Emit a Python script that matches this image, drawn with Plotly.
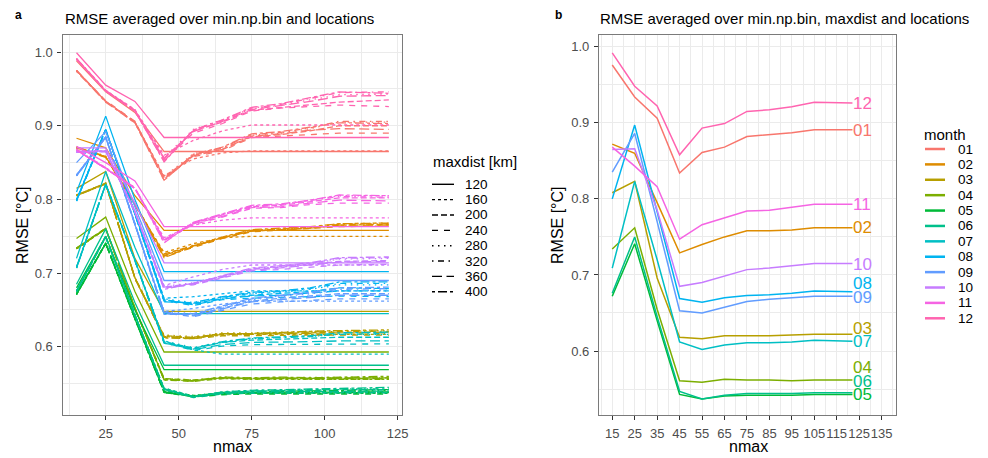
import plotly.graph_objects as go

# ---------------- data ----------------
nmax = [15, 25, 35, 45, 55, 65, 75, 85, 95, 105, 122]
months = ["01", "02", "03", "04", "05", "06", "07", "08", "09", "10", "11", "12"]
maxdist = [120, 160, 200, 240, 280, 320, 360, 400]

# panel a: RMSE per month, one row per maxdist (120 ... 400)
rmse_a_01 = [
    [0.988, 0.946, 0.918, 0.865, 0.865, 0.865, 0.865, 0.865, 0.865, 0.865, 0.865],
    [0.975, 0.933, 0.905, 0.832, 0.855, 0.863, 0.866, 0.866, 0.866, 0.866, 0.866],
    [0.975, 0.933, 0.905, 0.830, 0.860, 0.868, 0.885, 0.888, 0.893, 0.900, 0.900],
    [0.975, 0.934, 0.906, 0.828, 0.858, 0.866, 0.884, 0.886, 0.889, 0.890, 0.890],
    [0.975, 0.933, 0.905, 0.831, 0.862, 0.870, 0.887, 0.890, 0.896, 0.905, 0.905],
    [0.974, 0.933, 0.904, 0.826, 0.861, 0.870, 0.888, 0.891, 0.897, 0.906, 0.906],
    [0.975, 0.933, 0.905, 0.829, 0.859, 0.868, 0.886, 0.889, 0.894, 0.896, 0.895],
    [0.974, 0.932, 0.904, 0.826, 0.861, 0.871, 0.889, 0.892, 0.898, 0.904, 0.903],
]
rmse_a_02 = [
    [0.883, 0.870, 0.805, 0.758, 0.758, 0.758, 0.758, 0.758, 0.758, 0.758, 0.758],
    [0.870, 0.858, 0.793, 0.728, 0.740, 0.748, 0.750, 0.750, 0.750, 0.750, 0.750],
    [0.871, 0.858, 0.794, 0.726, 0.737, 0.748, 0.757, 0.759, 0.761, 0.765, 0.766],
    [0.870, 0.858, 0.793, 0.723, 0.735, 0.747, 0.756, 0.758, 0.760, 0.763, 0.764],
    [0.871, 0.859, 0.794, 0.725, 0.738, 0.749, 0.758, 0.760, 0.762, 0.767, 0.768],
    [0.870, 0.858, 0.793, 0.722, 0.736, 0.748, 0.758, 0.760, 0.762, 0.766, 0.767],
    [0.871, 0.858, 0.794, 0.724, 0.737, 0.748, 0.757, 0.759, 0.761, 0.765, 0.765],
    [0.870, 0.857, 0.793, 0.721, 0.736, 0.749, 0.759, 0.761, 0.763, 0.767, 0.768],
]
rmse_a_03 = [
    [0.815, 0.838, 0.720, 0.648, 0.648, 0.648, 0.648, 0.648, 0.648, 0.648, 0.648],
    [0.806, 0.821, 0.693, 0.614, 0.612, 0.616, 0.617, 0.617, 0.617, 0.617, 0.617],
    [0.806, 0.822, 0.694, 0.615, 0.613, 0.618, 0.618, 0.619, 0.619, 0.620, 0.620],
    [0.805, 0.821, 0.693, 0.613, 0.611, 0.615, 0.615, 0.616, 0.616, 0.616, 0.616],
    [0.806, 0.822, 0.694, 0.616, 0.614, 0.619, 0.619, 0.620, 0.621, 0.622, 0.622],
    [0.805, 0.821, 0.693, 0.613, 0.612, 0.618, 0.618, 0.619, 0.620, 0.621, 0.621],
    [0.806, 0.822, 0.694, 0.614, 0.612, 0.617, 0.617, 0.618, 0.618, 0.619, 0.619],
    [0.805, 0.821, 0.693, 0.612, 0.611, 0.618, 0.618, 0.620, 0.621, 0.622, 0.623],
]
rmse_a_04 = [
    [0.747, 0.776, 0.675, 0.593, 0.593, 0.593, 0.593, 0.593, 0.593, 0.593, 0.593],
    [0.733, 0.760, 0.652, 0.556, 0.554, 0.557, 0.556, 0.556, 0.556, 0.556, 0.556],
    [0.734, 0.761, 0.653, 0.557, 0.555, 0.558, 0.557, 0.558, 0.557, 0.558, 0.558],
    [0.733, 0.760, 0.652, 0.555, 0.553, 0.557, 0.556, 0.557, 0.556, 0.556, 0.556],
    [0.734, 0.761, 0.653, 0.557, 0.555, 0.559, 0.558, 0.558, 0.558, 0.559, 0.559],
    [0.733, 0.760, 0.652, 0.555, 0.554, 0.558, 0.557, 0.558, 0.557, 0.558, 0.558],
    [0.734, 0.761, 0.653, 0.556, 0.554, 0.558, 0.557, 0.557, 0.557, 0.557, 0.557],
    [0.733, 0.760, 0.652, 0.555, 0.554, 0.559, 0.558, 0.559, 0.558, 0.559, 0.560],
]
rmse_a_05 = [
    [0.680, 0.750, 0.650, 0.569, 0.569, 0.569, 0.569, 0.569, 0.569, 0.569, 0.569],
    [0.671, 0.740, 0.638, 0.540, 0.534, 0.537, 0.537, 0.537, 0.537, 0.537, 0.537],
    [0.672, 0.741, 0.639, 0.539, 0.533, 0.537, 0.538, 0.538, 0.538, 0.539, 0.539],
    [0.671, 0.740, 0.638, 0.538, 0.532, 0.535, 0.536, 0.536, 0.536, 0.536, 0.536],
    [0.672, 0.741, 0.639, 0.540, 0.534, 0.538, 0.539, 0.539, 0.540, 0.540, 0.541],
    [0.671, 0.740, 0.638, 0.538, 0.533, 0.537, 0.538, 0.539, 0.539, 0.540, 0.540],
    [0.672, 0.741, 0.639, 0.539, 0.533, 0.536, 0.537, 0.537, 0.537, 0.538, 0.538],
    [0.671, 0.740, 0.638, 0.538, 0.533, 0.538, 0.539, 0.540, 0.540, 0.541, 0.542],
]
rmse_a_06 = [
    [0.685, 0.760, 0.660, 0.575, 0.575, 0.575, 0.575, 0.575, 0.575, 0.575, 0.575],
    [0.675, 0.749, 0.643, 0.544, 0.533, 0.537, 0.538, 0.538, 0.538, 0.538, 0.538],
    [0.676, 0.750, 0.644, 0.543, 0.532, 0.538, 0.540, 0.540, 0.541, 0.542, 0.542],
    [0.675, 0.749, 0.643, 0.542, 0.531, 0.536, 0.537, 0.537, 0.537, 0.538, 0.538],
    [0.676, 0.750, 0.644, 0.544, 0.533, 0.539, 0.541, 0.541, 0.542, 0.543, 0.543],
    [0.675, 0.749, 0.643, 0.542, 0.532, 0.538, 0.540, 0.541, 0.542, 0.543, 0.543],
    [0.676, 0.750, 0.644, 0.543, 0.532, 0.537, 0.539, 0.539, 0.540, 0.540, 0.540],
    [0.675, 0.749, 0.643, 0.542, 0.532, 0.539, 0.541, 0.542, 0.543, 0.544, 0.545],
]
rmse_a_07 = [
    [0.720, 0.838, 0.735, 0.645, 0.645, 0.645, 0.645, 0.645, 0.645, 0.645, 0.645],
    [0.708, 0.821, 0.718, 0.608, 0.596, 0.590, 0.590, 0.590, 0.590, 0.590, 0.590],
    [0.708, 0.821, 0.718, 0.607, 0.598, 0.606, 0.609, 0.610, 0.611, 0.613, 0.613],
    [0.707, 0.820, 0.717, 0.606, 0.595, 0.601, 0.603, 0.603, 0.603, 0.604, 0.604],
    [0.708, 0.821, 0.718, 0.608, 0.599, 0.607, 0.611, 0.612, 0.614, 0.617, 0.617],
    [0.707, 0.820, 0.717, 0.605, 0.597, 0.606, 0.611, 0.612, 0.614, 0.617, 0.618],
    [0.708, 0.821, 0.718, 0.607, 0.596, 0.603, 0.606, 0.606, 0.607, 0.608, 0.608],
    [0.707, 0.820, 0.717, 0.605, 0.598, 0.607, 0.612, 0.613, 0.615, 0.619, 0.620],
]
rmse_a_08 = [
    [0.810, 0.913, 0.800, 0.702, 0.702, 0.702, 0.702, 0.702, 0.702, 0.702, 0.702],
    [0.800, 0.895, 0.781, 0.666, 0.668, 0.672, 0.676, 0.676, 0.676, 0.676, 0.676],
    [0.799, 0.895, 0.781, 0.664, 0.658, 0.666, 0.670, 0.672, 0.675, 0.680, 0.679],
    [0.798, 0.894, 0.780, 0.663, 0.656, 0.664, 0.666, 0.667, 0.668, 0.669, 0.668],
    [0.799, 0.895, 0.781, 0.665, 0.660, 0.668, 0.672, 0.674, 0.678, 0.684, 0.684],
    [0.798, 0.894, 0.780, 0.662, 0.659, 0.667, 0.673, 0.675, 0.679, 0.686, 0.686],
    [0.799, 0.895, 0.781, 0.664, 0.657, 0.665, 0.669, 0.670, 0.673, 0.676, 0.676],
    [0.798, 0.894, 0.780, 0.661, 0.660, 0.668, 0.674, 0.676, 0.680, 0.688, 0.688],
]
rmse_a_09 = [
    [0.850, 0.892, 0.790, 0.690, 0.690, 0.690, 0.690, 0.690, 0.690, 0.690, 0.690],
    [0.833, 0.885, 0.767, 0.648, 0.652, 0.658, 0.662, 0.662, 0.662, 0.662, 0.662],
    [0.833, 0.885, 0.767, 0.647, 0.643, 0.652, 0.662, 0.666, 0.669, 0.672, 0.672],
    [0.832, 0.884, 0.766, 0.646, 0.641, 0.650, 0.658, 0.661, 0.663, 0.665, 0.665],
    [0.833, 0.885, 0.767, 0.648, 0.645, 0.654, 0.664, 0.668, 0.672, 0.676, 0.677],
    [0.832, 0.884, 0.766, 0.645, 0.644, 0.654, 0.665, 0.669, 0.673, 0.678, 0.679],
    [0.833, 0.885, 0.767, 0.647, 0.642, 0.652, 0.661, 0.664, 0.667, 0.670, 0.670],
    [0.832, 0.884, 0.766, 0.644, 0.645, 0.655, 0.666, 0.670, 0.674, 0.680, 0.681],
]
rmse_a_10 = [
    [0.870, 0.870, 0.795, 0.714, 0.714, 0.714, 0.714, 0.714, 0.714, 0.714, 0.714],
    [0.864, 0.866, 0.783, 0.683, 0.695, 0.705, 0.711, 0.711, 0.711, 0.711, 0.711],
    [0.865, 0.866, 0.784, 0.681, 0.686, 0.695, 0.705, 0.708, 0.712, 0.716, 0.717],
    [0.864, 0.865, 0.783, 0.680, 0.684, 0.693, 0.703, 0.705, 0.708, 0.711, 0.712],
    [0.865, 0.866, 0.784, 0.682, 0.687, 0.696, 0.706, 0.709, 0.713, 0.719, 0.720],
    [0.864, 0.865, 0.783, 0.679, 0.686, 0.696, 0.706, 0.709, 0.713, 0.720, 0.721],
    [0.865, 0.866, 0.784, 0.681, 0.685, 0.694, 0.704, 0.707, 0.711, 0.715, 0.716],
    [0.864, 0.865, 0.783, 0.678, 0.686, 0.697, 0.707, 0.710, 0.714, 0.721, 0.722],
]
rmse_a_11 = [
    [0.872, 0.850, 0.825, 0.763, 0.763, 0.763, 0.763, 0.763, 0.763, 0.763, 0.763],
    [0.867, 0.842, 0.815, 0.748, 0.765, 0.772, 0.775, 0.775, 0.775, 0.775, 0.775],
    [0.867, 0.842, 0.815, 0.745, 0.768, 0.779, 0.790, 0.792, 0.797, 0.802, 0.802],
    [0.867, 0.842, 0.815, 0.744, 0.766, 0.776, 0.788, 0.789, 0.793, 0.795, 0.795],
    [0.868, 0.843, 0.816, 0.746, 0.769, 0.780, 0.791, 0.793, 0.799, 0.805, 0.805],
    [0.867, 0.842, 0.815, 0.742, 0.768, 0.779, 0.791, 0.793, 0.798, 0.804, 0.803],
    [0.868, 0.843, 0.816, 0.745, 0.767, 0.777, 0.789, 0.790, 0.795, 0.799, 0.798],
    [0.867, 0.842, 0.815, 0.741, 0.769, 0.780, 0.792, 0.794, 0.799, 0.806, 0.805],
]
rmse_a_12 = [
    [0.999, 0.955, 0.933, 0.884, 0.884, 0.884, 0.884, 0.884, 0.884, 0.884, 0.884],
    [0.991, 0.948, 0.922, 0.860, 0.880, 0.893, 0.901, 0.901, 0.901, 0.901, 0.901],
    [0.991, 0.947, 0.921, 0.856, 0.893, 0.905, 0.921, 0.925, 0.928, 0.932, 0.935],
    [0.990, 0.947, 0.920, 0.853, 0.890, 0.903, 0.920, 0.924, 0.926, 0.928, 0.926],
    [0.991, 0.948, 0.921, 0.857, 0.895, 0.908, 0.923, 0.928, 0.935, 0.942, 0.943],
    [0.990, 0.947, 0.920, 0.852, 0.894, 0.907, 0.924, 0.929, 0.937, 0.945, 0.946],
    [0.991, 0.948, 0.921, 0.855, 0.892, 0.906, 0.922, 0.927, 0.933, 0.940, 0.941],
    [0.990, 0.947, 0.920, 0.851, 0.894, 0.908, 0.925, 0.930, 0.938, 0.946, 0.944],
]

# panel b: RMSE averaged over maxdist
rmse_b_01 = [0.976, 0.934, 0.906, 0.834, 0.861, 0.868, 0.882, 0.884, 0.887, 0.891, 0.891]
rmse_b_02 = [0.872, 0.860, 0.795, 0.729, 0.740, 0.750, 0.758, 0.758, 0.759, 0.762, 0.762]
rmse_b_03 = [0.808, 0.823, 0.696, 0.618, 0.616, 0.620, 0.620, 0.620, 0.621, 0.622, 0.622]
rmse_b_04 = [0.734, 0.762, 0.655, 0.561, 0.559, 0.563, 0.562, 0.562, 0.561, 0.562, 0.562]
rmse_b_05 = [0.672, 0.741, 0.640, 0.543, 0.537, 0.541, 0.542, 0.542, 0.542, 0.543, 0.543]
rmse_b_06 = [0.676, 0.750, 0.645, 0.547, 0.537, 0.542, 0.544, 0.544, 0.544, 0.545, 0.545]
rmse_b_07 = [0.709, 0.823, 0.720, 0.612, 0.602, 0.608, 0.611, 0.611, 0.612, 0.614, 0.613]
rmse_b_08 = [0.800, 0.897, 0.783, 0.669, 0.664, 0.670, 0.673, 0.674, 0.676, 0.679, 0.678]
rmse_b_09 = [0.835, 0.886, 0.770, 0.653, 0.650, 0.658, 0.665, 0.668, 0.670, 0.672, 0.672]
rmse_b_10 = [0.865, 0.866, 0.785, 0.685, 0.690, 0.698, 0.707, 0.709, 0.712, 0.715, 0.715]
rmse_b_11 = [0.868, 0.843, 0.816, 0.747, 0.766, 0.775, 0.784, 0.785, 0.789, 0.793, 0.793]
rmse_b_12 = [0.992, 0.948, 0.922, 0.858, 0.893, 0.899, 0.915, 0.917, 0.921, 0.927, 0.926]

# direct-label vertical positions in panel b (repelled)
label_y_b = [0.890, 0.762, 0.630, 0.579, 0.543, 0.560, 0.612, 0.689, 0.671, 0.714, 0.792, 0.925]

x_ticks_a = [25, 50, 75, 100, 125]
x_ticks_b = [15, 25, 35, 45, 55, 65, 75, 85, 95, 105, 115, 125, 135]
y_ticks = [0.6, 0.7, 0.8, 0.9, 1.0]
y_tick_text = ["0.6", "0.7", "0.8", "0.9", "1.0"]

# ---------------- styles ----------------
colors = ["#F8766D", "#DE8C00", "#B79F00", "#7CAE00", "#00BA38", "#00C08B",
          "#00BFC4", "#00B4F0", "#619CFF", "#C77CFF", "#F564E3", "#FF64B0"]
dashes = ["solid", "3px,3px", "6px,3px", "6px,6px", "1.5px,4.5px",
          "1.5px,4.5px,6px,4.5px", "10px,4.5px", "3px,3px,9px,3px"]

rmse_a = dict(zip(months, [rmse_a_01, rmse_a_02, rmse_a_03, rmse_a_04, rmse_a_05, rmse_a_06,
                           rmse_a_07, rmse_a_08, rmse_a_09, rmse_a_10, rmse_a_11, rmse_a_12]))
rmse_b = dict(zip(months, [rmse_b_01, rmse_b_02, rmse_b_03, rmse_b_04, rmse_b_05, rmse_b_06,
                           rmse_b_07, rmse_b_08, rmse_b_09, rmse_b_10, rmse_b_11, rmse_b_12]))

# the page body has an 8px margin, so the figure is drawn 8px in from the top-left
OFF = 8
W, H = 988 - OFF, 458 - OFF
FONT = "Liberation Sans, Arial, Helvetica, sans-serif"


def px(xp):
    return (xp - OFF) / W


def py(yp):
    return 1 - (yp - OFF) / H


fig = go.Figure()

# panel a traces
for mi, m in enumerate(months):
    for di, d in enumerate(maxdist):
        fig.add_trace(go.Scatter(
            x=nmax, y=rmse_a[m][di], mode="lines",
            line=dict(color=colors[mi], width=1.3, dash=dashes[di]),
            name=f"{m} / {d} km", showlegend=False,
            xaxis="x", yaxis="y"))

# panel b traces
for mi, m in enumerate(months):
    fig.add_trace(go.Scatter(
        x=nmax, y=rmse_b[m], mode="lines",
        line=dict(color=colors[mi], width=1.5),
        name=m, showlegend=False, xaxis="x2", yaxis="y2"))

annotations = []
shapes = []

# direct labels in panel b
for mi, m in enumerate(months):
    annotations.append(dict(
        x=nmax[-1], y=label_y_b[mi], xref="x2", yref="y2", text=m,
        showarrow=False, xanchor="left", yanchor="middle", xshift=-1,
        font=dict(family=FONT, size=17, color=colors[mi])))

grid_major = "#EBEBEB"
border = "#7A7A7A"

axis_common = dict(
    showgrid=True, gridcolor=grid_major, gridwidth=1.1,
    showline=True, linecolor=border, linewidth=1.1, mirror=True,
    ticks="outside", ticklen=4, tickcolor="#333333", tickwidth=1.1,
    tickfont=dict(family=FONT, size=13, color="#4D4D4D"),
    zeroline=False, automargin=False, ticklabelstandoff=2, tickangle=0,
)

fig.update_layout(
    width=W, height=H,
    margin=dict(l=0, r=0, t=0, b=0),
    paper_bgcolor="white", plot_bgcolor="white",
    showlegend=False,
    xaxis=dict(domain=[px(62.5), px(402)], range=[10.2, 126.5],
               tickvals=x_ticks_a, anchor="y",
               minor=dict(tickvals=[12.5, 37.5, 62.5, 87.5, 112.5], showgrid=True,
                          gridcolor=grid_major, gridwidth=0.55, ticks=""),
               **axis_common),
    yaxis=dict(domain=[py(415), py(35)], range=[0.5075, 1.0231],
               tickvals=y_ticks, ticktext=y_tick_text, anchor="x",
               minor=dict(tickvals=[0.55, 0.65, 0.75, 0.85, 0.95], showgrid=True,
                          gridcolor=grid_major, gridwidth=0.55, ticks=""),
               **axis_common),
    xaxis2=dict(domain=[px(599), px(896)], range=[9.1, 141.4],
                tickvals=x_ticks_b, anchor="y2",
                minor=dict(tickvals=[10, 20, 30, 40, 50, 60, 70, 80, 90, 100, 110, 120, 130, 140],
                           showgrid=True, gridcolor=grid_major, gridwidth=0.55, ticks=""),
                **axis_common),
    yaxis2=dict(domain=[py(415), py(35)], range=[0.5159, 1.0154],
                tickvals=y_ticks, ticktext=y_tick_text, anchor="x2",
                minor=dict(tickvals=[0.55, 0.65, 0.75, 0.85, 0.95], showgrid=True,
                           gridcolor=grid_major, gridwidth=0.55, ticks=""),
                **axis_common),
)

# titles, panel letters, axis titles
text_items = [
    ("<b>a</b>", 13, 15, "left", 12, 0),
    ("RMSE averaged over min.np.bin and locations", 63, 18, "left", 15, 0),
    ("<b>b</b>", 553, 15, "left", 12, 0),
    ("RMSE averaged over min.np.bin, maxdist and locations", 598, 18, "left", 15, 0),
    ("nmax", 232, 446, "center", 16, 0),
    ("nmax", 748, 446, "center", 16, 0),
    ("RMSE [°C]", 22, 225, "center", 16, -90),
    ("RMSE [°C]", 557, 225, "center", 16, -90),
]
for txt, xx, yy, anc, sz, rot in text_items:
    annotations.append(dict(
        x=px(xx), y=py(yy), xref="paper", yref="paper", text=txt, showarrow=False,
        xanchor=anc, yanchor="middle", textangle=rot,
        font=dict(family=FONT, size=sz, color="black")))

# legend: maxdist linetypes
annotations.append(dict(x=px(431), y=py(161), xref="paper", yref="paper",
                        text="maxdist [km]", showarrow=False, xanchor="left",
                        yanchor="middle", font=dict(family=FONT, size=15, color="black")))
for di, d in enumerate(maxdist):
    yy = 184.3 + di * 15.35
    shapes.append(dict(type="line", xref="paper", yref="paper",
                       x0=px(432), x1=px(454), y0=py(yy), y1=py(yy),
                       line=dict(color="black", width=1.4, dash=dashes[di])))
    annotations.append(dict(x=px(463), y=py(yy), xref="paper", yref="paper",
                            text=str(d), showarrow=False, xanchor="left", yanchor="middle",
                            font=dict(family=FONT, size=13.5, color="black")))

# legend: month colours
annotations.append(dict(x=px(922), y=py(134), xref="paper", yref="paper",
                        text="month", showarrow=False, xanchor="left",
                        yanchor="middle", font=dict(family=FONT, size=15, color="black")))
for mi, m in enumerate(months):
    yy = 149 + mi * 15.39
    shapes.append(dict(type="line", xref="paper", yref="paper",
                       x0=px(925), x1=px(945), y0=py(yy), y1=py(yy),
                       line=dict(color=colors[mi], width=2.5)))
    annotations.append(dict(x=px(956), y=py(yy), xref="paper", yref="paper",
                            text=m, showarrow=False, xanchor="left", yanchor="middle",
                            font=dict(family=FONT, size=13.5, color="black")))

fig.update_layout(annotations=annotations, shapes=shapes)

fig.write_html("out.html")
